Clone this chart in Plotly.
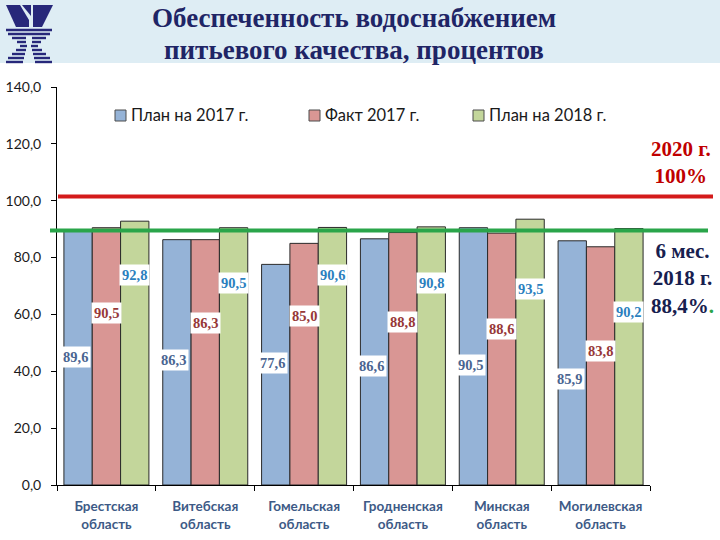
import plotly.graph_objects as go

# ---------------- data ----------------
categories = ["Брестская<br>область", "Витебская<br>область", "Гомельская<br>область",
              "Гродненская<br>область", "Минская<br>область", "Могилевская<br>область"]
series_names = ["План на 2017 г.", "Факт 2017 г.", "План на 2018 г."]
plan_2017 = [89.6, 86.3, 77.6, 86.6, 90.5, 85.9]
fact_2017 = [90.5, 86.3, 85.0, 88.8, 88.6, 83.8]
plan_2018 = [92.8, 90.5, 90.6, 90.8, 93.5, 90.2]
target_2020_level = 101.5   # red reference line as drawn
half_2018_level = 89.5      # green reference line as drawn
title_lines = ["Обеспеченность водоснабжением", "питьевого качества, процентов"]

# ---------------- styling / layout ----------------
W, H = 720, 540
ML, MR, MT, MB = 57, 70, 87, 55
PW, PH = W - ML - MR, H - MT - MB
bar_colors = ["#95b3d7", "#d99694", "#c3d69b"]
label_colors = ["#4a6591", "#973838", "#2b7fbe"]
# label vertical positions (data units) — layout placement of value boxes
label_pos = [
    [45.0, 44.0, 42.9, 41.8, 42.2, 37.3],
    [60.5, 57.0, 59.4, 57.3, 54.9, 47.1],
    [73.9, 71.0, 73.9, 71.0, 68.9, 60.8],
]
BARGAP = 0.14


def px(x):
    return (x - ML) / PW


def py(y):
    return (H - MB - y) / PH


series = [plan_2017, fact_2017, plan_2018]
fig = go.Figure()
for name, vals, col in zip(series_names, series, bar_colors):
    fig.add_trace(go.Bar(
        x=categories, y=vals, name=name,
        marker=dict(color=col, line=dict(color="#2a2a2a", width=1)),
        showlegend=False, hoverinfo="skip",
    ))

shapes = []
annotations = []

# header band
shapes.append(dict(type="rect", xref="paper", yref="paper", x0=px(0), x1=px(W),
                   y0=py(63), y1=py(0), fillcolor="#deedf4", line=dict(width=0), layer="below"))

# logo
navy = "#27287a"


def path(points):
    s = "M " + " L ".join(f"{px(a):.5f},{py(b):.5f}" for a, b in points) + " Z"
    return s


logo_polys = [
    [(6, 5), (20, 5), (29, 20), (29, 27), (16, 27)],
    [(22, 5), (31, 5), (31, 16)],
    [(33, 5), (53, 5), (42, 27), (33, 27), (33, 20)],
]
for poly in logo_polys:
    shapes.append(dict(type="path", xref="paper", yref="paper", path=path(poly),
                       fillcolor=navy, line=dict(width=0)))
stripes = [(30, 23, 0), (34, 21, 0), (38, 17, 3), (42, 12, 3), (46, 9, 2),
           (50, 13, 3), (54, 17, 4), (58, 21, 5), (62, 23, 6)]
for yy, hw, gap in stripes:
    cx = 29
    if gap == 0:
        segs = [(cx - hw, cx + hw)]
    else:
        segs = [(cx - hw, cx - gap), (cx + gap, cx + hw)]
    for a, b in segs:
        shapes.append(dict(type="rect", xref="paper", yref="paper", x0=px(a), x1=px(b),
                           y0=py(yy + 1.2), y1=py(yy - 1.2), fillcolor=navy, line=dict(width=0)))

# title (two lines)
for line, yc in zip(title_lines, [18, 50]):
    annotations.append(dict(xref="paper", yref="paper", x=px(354), y=py(yc), text=line,
                            showarrow=False, xanchor="center", yanchor="middle",
                            font=dict(family="Liberation Serif", size=27, color="#1f2566",
                                      weight="bold")))

# reference lines
shapes.append(dict(type="line", xref="paper", yref="y", x0=px(58), x1=px(713),
                   y0=target_2020_level, y1=target_2020_level,
                   line=dict(color="#d41b1b", width=4), layer="above"))
shapes.append(dict(type="line", xref="paper", yref="y", x0=px(50), x1=px(708),
                   y0=half_2018_level, y1=half_2018_level,
                   line=dict(color="#2aa54a", width=4), layer="above"))

annotations.append(dict(xref="paper", yref="paper", x=px(681), y=py(162),
                        text="2020 г.<br>100%", showarrow=False, align="center",
                        xanchor="center", yanchor="middle",
                        font=dict(family="Liberation Serif", size=21, color="#c00000", weight="bold")))
annotations.append(dict(xref="paper", yref="paper", x=px(682), y=py(278),
                        text="6 мес.<br>2018 г.<br>88,4%<span style='color:#2aa54a'>.</span>",
                        showarrow=False, align="center",
                        xanchor="center", yanchor="middle",
                        font=dict(family="Liberation Serif", size=21, color="#17204f", weight="bold")))

# manual legend
leg_items = [(115, series_names[0]), (309, series_names[1]), (473, series_names[2])]
for (x0, name), col in zip(leg_items, bar_colors):
    shapes.append(dict(type="rect", xref="paper", yref="paper", x0=px(x0), x1=px(x0 + 11),
                       y0=py(121), y1=py(110), fillcolor=col, line=dict(color="#4d4d4d", width=1)))
    annotations.append(dict(xref="paper", yref="paper", x=px(x0 + 14), y=py(115.5), text=name,
                            showarrow=False, xanchor="left", yanchor="middle",
                            font=dict(family="Lato", size=16.5, color="#1a1a1a")))

# value labels
cat_px = PW / len(categories)
bar_px = cat_px * (1 - BARGAP) / 3
for j, vals in enumerate(series):
    for i, v in enumerate(vals):
        annotations.append(dict(
            x=categories[i], y=label_pos[j][i], xref="x", yref="y",
            xshift=(j - 1) * bar_px - (3 if j == 0 else 0),
            text=f"{v:.1f}".replace(".", ","), showarrow=False,
            bgcolor="white", borderpad=2,
            font=dict(family="Liberation Serif", size=14.5, color=label_colors[j], weight="bold")))

fig.update_layout(
    width=W, height=H,
    margin=dict(l=ML, r=MR, t=MT, b=MB, pad=0, autoexpand=False),
    paper_bgcolor="white", plot_bgcolor="white",
    barmode="group", bargap=BARGAP, bargroupgap=0,
    separators=", ",
    shapes=shapes, annotations=annotations,
    showlegend=False,
)
fig.update_yaxes(range=[0, 140], dtick=20, tickformat=".1f", showgrid=False, zeroline=False,
                 showline=True, linecolor="black", linewidth=1, automargin=False,
                 ticks="outside", ticklen=5, tickcolor="black", ticklabelstandoff=7,
                 tickfont=dict(family="Lato", size=14, color="#1a1a1a"))
fig.update_xaxes(type="category", tickson="boundaries", ticks="outside", ticklen=5, tickcolor="black",
                 showline=True, linecolor="black", linewidth=1, showgrid=False, ticklabelstandoff=9,
                 automargin=False,
                 tickfont=dict(family="Lato", size=13.5, color="#3d5a86", weight="bold"))

fig.write_html("out.html")
